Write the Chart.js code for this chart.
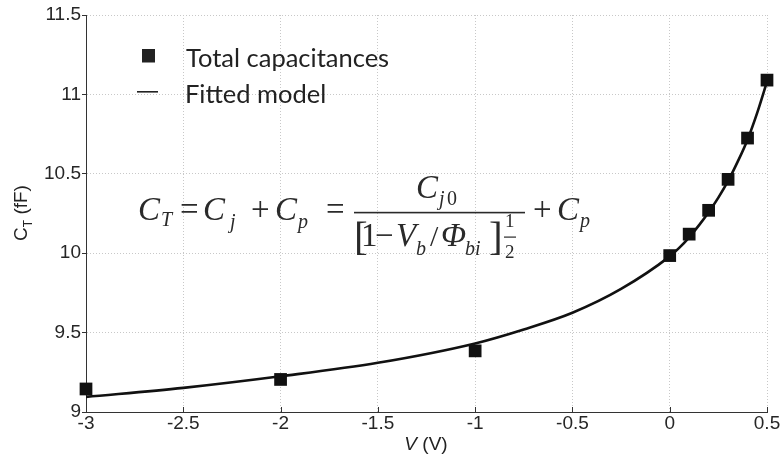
<!DOCTYPE html>
<html>
<head>
<meta charset="utf-8">
<script src="https://cdn.jsdelivr.net/npm/chart.js@4.4.1/dist/chart.umd.min.js"></script>
<style>
    html, body { margin: 0; padding: 0; background: #fff; }
    #wrap { position: relative; width: 783px; height: 459px; }
</style>
</head>
<body>
<div id="wrap"><canvas id="chart" width="783" height="459"></canvas></div>
<script>
// Measured capacitances
const measuredV = [-3, -2, -1, 0, 0.1, 0.2, 0.3, 0.4, 0.5];
const measuredC = [9.145, 9.205, 9.385, 9.985, 10.12, 10.27, 10.465, 10.725, 11.09];

// Fitted model curve
const fitV = [-3, -2.5, -2, -1.5, -1, -0.75, -0.5, -0.25, 0, 0.05, 0.1, 0.15, 0.2, 0.25, 0.3, 0.35, 0.4, 0.45, 0.5];
const fitC = [9.095, 9.152, 9.225, 9.31, 9.432, 9.52, 9.625, 9.775, 9.98, 10.035, 10.1, 10.175, 10.258, 10.35, 10.455, 10.578, 10.715, 10.885, 11.08];

// Tick labels
const xTicks = [-3, -2.5, -2, -1.5, -1, -0.5, 0, 0.5];
const yTicks = [9, 9.5, 10, 10.5, 11, 11.5];

const legendLabels = ["Total capacitances", "Fitted model"];

const sans = '"Liberation Sans", Arial, sans-serif';
const serif = '"Liberation Serif", "Times New Roman", serif';
const ink = "#222";

// Inward ticks on the x axis
const xTickMarks = {
    id: "xTickMarks",
    afterDatasetsDraw(chart) {
        const { ctx, scales: { x, y } } = chart;
        ctx.save();
        ctx.strokeStyle = "#333";
        ctx.lineWidth = 1;
        xTicks.forEach((v) => {
            const px = Math.round(x.getPixelForValue(v)) + 0.5;
            ctx.beginPath();
            ctx.moveTo(px, y.bottom);
            ctx.lineTo(px, y.bottom - 5);
            ctx.stroke();
        });
        ctx.restore();
    },
};

// Legend, axis titles and the formula
const extras = {
    id: "extras",
    afterDraw(chart) {
        const { ctx } = chart;
        ctx.save();
        ctx.fillStyle = ink;
        ctx.textAlign = "left";
        ctx.textBaseline = "alphabetic";

        // legend
        ctx.fillRect(142, 49, 13, 13.5);
        ctx.fillRect(137, 91, 21, 1.6);
        ctx.font = '25.5px Lato, "Open Sans", sans-serif';
        ctx.fillText(legendLabels[0], 186, 67);
        ctx.fillText(legendLabels[1], 185, 103);

        // x title
        ctx.font = "italic 19px " + sans;
        let w1 = ctx.measureText("V").width;
        ctx.font = "19px " + sans;
        let w2 = ctx.measureText(" (V)").width;
        let sx = 426 - (w1 + w2) / 2;
        ctx.font = "italic 19px " + sans;
        ctx.fillText("V", sx, 450);
        ctx.font = "19px " + sans;
        ctx.fillText(" (V)", sx + w1, 450);

        // y title, rotated
        ctx.save();
        ctx.translate(27, 213);
        ctx.rotate(-Math.PI / 2);
        ctx.font = "19px " + sans;
        const cW = ctx.measureText("C").width;
        const restW = ctx.measureText(" (fF)").width;
        ctx.font = "12px " + sans;
        const tW = ctx.measureText("T").width;
        let yx = -(cW + tW + restW) / 2;
        ctx.font = "19px " + sans;
        ctx.fillText("C", yx, 0);
        ctx.font = "12px " + sans;
        ctx.fillText("T", yx + cW, 5);
        ctx.font = "19px " + sans;
        ctx.fillText(" (fF)", yx + cW + tW, 0);
        ctx.restore();

        // formula
        ctx.fillStyle = "#2a2a2a";
        const put = (txt, x, y, size, italic) => {
            ctx.font = (italic ? "italic " : "") + size + "px " + serif;
            ctx.fillText(txt, x, y);
        };
        const big = 33, sub = 20;
        put("C", 138, 220, big, true);
        put("T", 161, 226, sub, true);
        put("=", 180, 220, big, false);
        put("C", 203, 220, big, true);
        put("j", 230, 228, sub, true);
        put("+", 251, 220, big, false);
        put("C", 275, 220, big, true);
        put("p", 298, 228, sub, true);
        put("=", 326, 220, big, false);
        ctx.fillRect(354, 211.8, 171, 1.6);
        put("C", 416, 198, big, true);
        put("j", 439, 205, sub, true);
        put("0", 447, 205, sub, false);
        put("[", 354, 250, 41, false);
        put("1", 361, 246, big, false);
        put("\u2212", 375, 246, big, false);
        put("V", 396, 246, big, true);
        put("b", 416, 255, sub, true);
        put("/", 430, 246, 30, false);
        put("\u03A6", 441, 246, big, true);
        put("bi", 465, 255, sub, true);
        put("]", 489, 250, 41, false);
        put("1", 505, 227, 19, false);
        ctx.fillRect(504, 236.5, 12, 1.2);
        put("2", 505, 258, 19, false);
        put("+", 533, 220, big, false);
        put("C", 557, 220, big, true);
        put("p", 580, 227, sub, true);
        ctx.restore();
    },
};

const gridStyle = {
    color: "#c8c8c8",
    lineWidth: 1,
};

new Chart(document.getElementById("chart"), {
    type: "scatter",
    data: {
        datasets: [
            {
                label: legendLabels[1],
                data: fitV.map((v, i) => ({ x: v, y: fitC[i] })),
                showLine: true,
                borderColor: "#111",
                borderWidth: 2.6,
                pointRadius: 0,
                cubicInterpolationMode: "monotone",
                clip: false,
                order: 2,
            },
            {
                label: legendLabels[0],
                data: measuredV.map((v, i) => ({ x: v, y: measuredC[i] })),
                showLine: false,
                pointStyle: "rect",
                pointRadius: 9,
                backgroundColor: "#111",
                borderColor: "#111",
                borderWidth: 0,
                clip: false,
                order: 1,
            },
        ],
    },
    options: {
        responsive: false,
        animation: false,
        devicePixelRatio: 1,
        layout: { padding: { left: 0, top: 15, right: 16, bottom: 0 } },
        plugins: {
            legend: { display: false },
            tooltip: { enabled: false },
        },
        scales: {
            x: {
                type: "linear",
                min: -3,
                max: 0.5,
                afterBuildTicks: (scale) => {
                    scale.ticks = xTicks.map((v) => ({ value: v }));
                },
                afterFit: (scale) => { scale.height = 47; },
                ticks: {
                    color: "#262626",
                    font: { family: sans, size: 19 },
                    padding: 0,
                    maxRotation: 0,
                    callback: (v) => String(v),
                },
                grid: { ...gridStyle, drawTicks: false },
                border: { display: true, color: "#333", width: 1, dash: [1, 2] },
            },
            y: {
                type: "linear",
                min: 9,
                max: 11.5,
                afterBuildTicks: (scale) => {
                    scale.ticks = yTicks.map((v) => ({ value: v }));
                },
                afterFit: (scale) => { scale.width = 86; },
                ticks: {
                    color: "#262626",
                    font: { family: sans, size: 19 },
                    padding: 1,
                    callback: (v) => String(v),
                },
                grid: { ...gridStyle, drawTicks: true, tickLength: 4, tickColor: "#333" },
                border: { display: true, color: "#333", width: 1, dash: [1, 2] },
            },
        },
    },
    plugins: [xTickMarks, extras],
});
</script>
</body>
</html>
